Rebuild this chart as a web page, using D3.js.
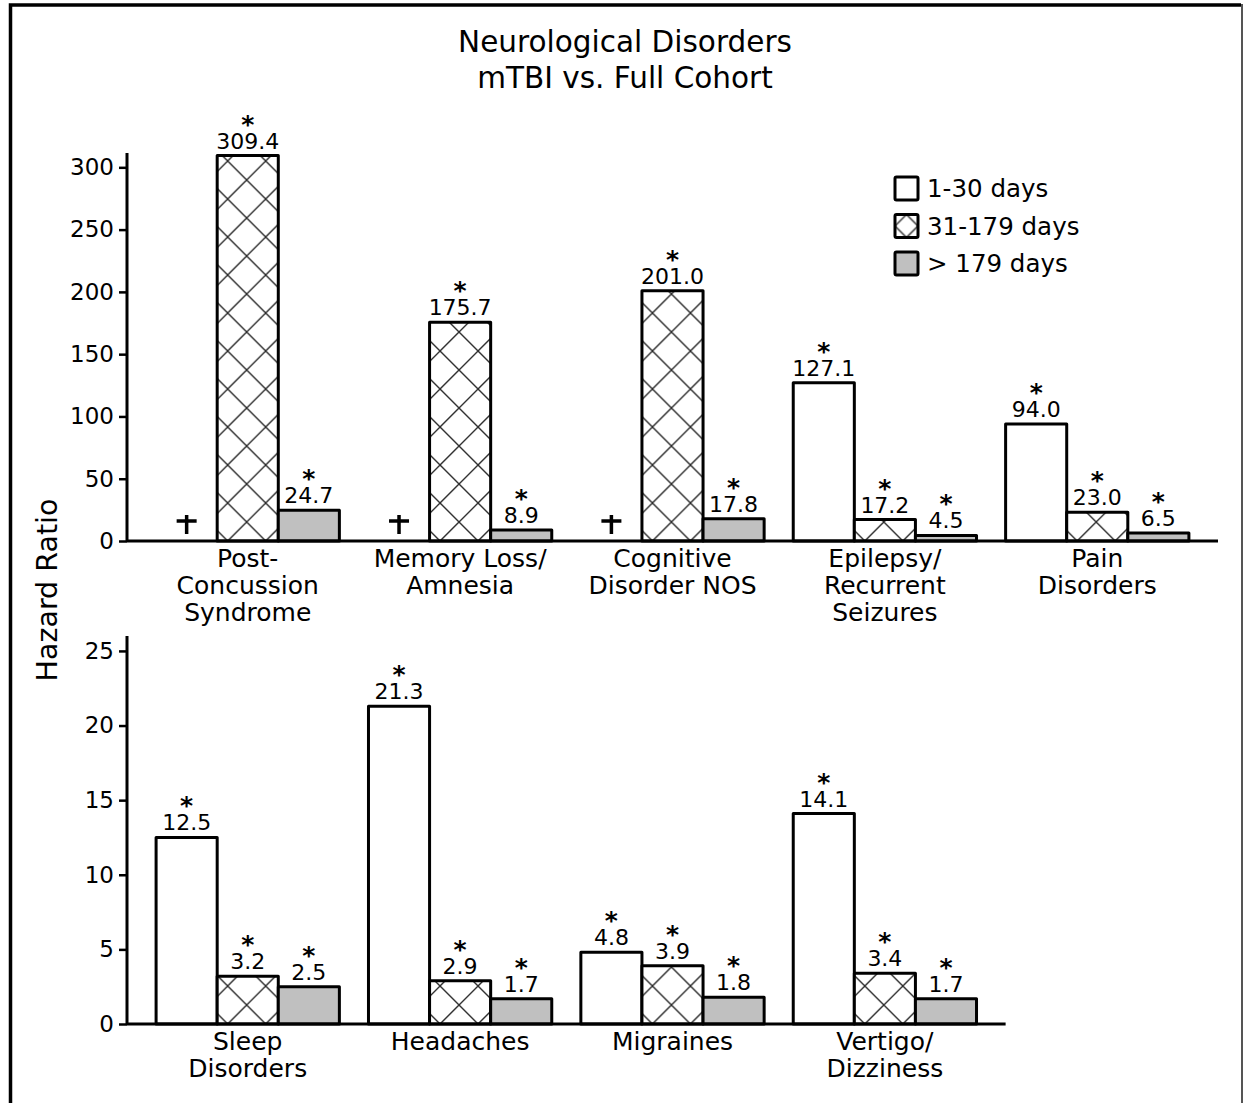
<!DOCTYPE html>
<html>
<head>
<meta charset="utf-8">
<script src="https://cdn.jsdelivr.net/npm/d3@7"></script>
<style>
  html, body { margin: 0; padding: 0; background: #fff; }
  svg { display: block; font-family: "DejaVu Sans", Verdana, sans-serif; }
</style>
</head>
<body>
<svg id="chart" width="1244" height="1103"></svg>
<script>
// ---- data ----
const seriesNames = ["1-30 days", "31-179 days", "> 179 days"];

const topCategories = [
  ["Post-", "Concussion", "Syndrome"],
  ["Memory Loss/", "Amnesia"],
  ["Cognitive", "Disorder NOS"],
  ["Epilepsy/", "Recurrent", "Seizures"],
  ["Pain", "Disorders"]
];
// null = not estimable (marked with a cross)
const top1to30   = [null, null, null, 127.1, 94.0];
const top31to179 = [309.4, 175.7, 201.0, 17.2, 23.0];
const topOver179 = [24.7, 8.9, 17.8, 4.5, 6.5];
const topTicks   = [0, 50, 100, 150, 200, 250, 300];

const bottomCategories = [
  ["Sleep", "Disorders"],
  ["Headaches"],
  ["Migraines"],
  ["Vertigo/", "Dizziness"]
];
const bottom1to30   = [12.5, 21.3, 4.8, 14.1];
const bottom31to179 = [3.2, 2.9, 3.9, 3.4];
const bottomOver179 = [2.5, 1.7, 1.8, 1.7];
const bottomTicks   = [0, 5, 10, 15, 20, 25];

// ---- drawing ----
const svg = d3.select("#chart");
const defs = svg.append("defs");
const FONT = "DejaVu Sans, Verdana, sans-serif";
const fills = ["#ffffff", null, "#c0c0c0"];
let patternCount = 0;

// outer frame
svg.append("path").attr("d", "M10.5,1103 L10.5,5 L1241,5")
  .attr("fill", "none").attr("stroke", "#000").attr("stroke-width", 3.5);
svg.append("line").attr("x1", 1242).attr("x2", 1242).attr("y1", 4).attr("y2", 1103)
  .attr("stroke", "#555").attr("stroke-width", 2);

// title
svg.append("text").attr("x", 625).attr("y", 52).attr("text-anchor", "middle")
  .attr("font-size", 29.5).text("Neurological Disorders");
svg.append("text").attr("x", 625).attr("y", 88).attr("text-anchor", "middle")
  .attr("font-size", 29.5).text("mTBI vs. Full Cohort");

// shared y-axis title
svg.append("text").attr("transform", "translate(57,590) rotate(-90)")
  .attr("text-anchor", "middle").attr("font-size", 28.5).text("Hazard Ratio");

// cross-hatch fill, anchored at (x, y), tile size s
function hatchPattern(x, y, s) {
  const id = "hatch" + (patternCount++);
  const p = defs.append("pattern").attr("id", id)
    .attr("patternUnits", "userSpaceOnUse")
    .attr("x", x).attr("y", y).attr("width", s).attr("height", s);
  p.append("rect").attr("width", s).attr("height", s).attr("fill", "#fff");
  p.append("path")
    .attr("d", `M0,0 L${s},${s} M${s},0 L0,${s} M-1,${s - 1} L1,${s + 1} M${s - 1},-1 L${s + 1},1 M-1,1 L1,-1 M${s - 1},${s + 1} L${s + 1},${s - 1}`)
    .attr("stroke", "#2a2a2a").attr("stroke-width", 1.4).attr("fill", "none");
  return "url(#" + id + ")";
}

function panel(opts) {
  const g = svg.append("g");
  const { cats, series, yMax, ticks, x0, x1, yBottom, yTop } = opts;
  const x = d3.scaleBand().domain(d3.range(cats.length)).range([x0, x1]).padding(0.137);
  const xs = d3.scaleBand().domain([0, 1, 2]).range([0, x.bandwidth()]);
  const y = d3.scaleLinear().domain([0, yMax]).range([yBottom, yTop]);

  // y axis
  const yAxis = g.append("g").attr("transform", `translate(${x0},0)`)
    .call(d3.axisLeft(y).tickValues(ticks).tickSize(8).tickPadding(5).tickFormat(d3.format("d")));
  yAxis.select(".domain").attr("d", `M0,${yTop}V${yBottom}`).attr("stroke-width", 3);
  yAxis.selectAll(".tick line").attr("stroke-width", 2.5);
  yAxis.selectAll(".tick text").attr("font-size", 23).attr("font-family", FONT).attr("fill", "#000");

  // bars
  cats.forEach((cat, i) => {
    const gx = x(i);
    series.forEach((vals, s) => {
      const v = vals[i];
      const bx = gx + xs(s);
      const bw = xs.bandwidth();
      const cx = bx + bw / 2;
      if (v === null) {
        // cross marker for a ratio that could not be estimated
        g.append("path")
          .attr("d", `M${cx - 10},${yBottom - 20}H${cx + 10}M${cx},${yBottom - 26}V${yBottom - 7}`)
          .attr("stroke", "#000").attr("stroke-width", 3.5).attr("fill", "none");
        return;
      }
      const fill = s === 1 ? hatchPattern(bx + 10.5, yBottom, 38) : fills[s];
      g.append("rect").attr("x", bx).attr("y", y(v)).attr("width", bw).attr("height", yBottom - y(v))
        .attr("fill", fill).attr("stroke", "#000").attr("stroke-width", 3).attr("stroke-linejoin", "round");
      // significance star above the value label
      const lab = g.append("text").attr("text-anchor", "middle");
      lab.append("tspan").attr("x", cx).attr("y", y(v) - 23)
        .attr("font-size", 25).attr("font-weight", "bold").text("*");
      lab.append("tspan").attr("x", cx).attr("y", y(v) - 7)
        .attr("font-size", 22).text(v.toFixed(1));
    });
    // category label
    const lbl = g.append("text").attr("text-anchor", "middle").attr("font-size", 25);
    cat.forEach((line, k) => {
      lbl.append("tspan").attr("x", gx + x.bandwidth() / 2).attr("y", yBottom + 26 + k * 27).text(line);
    });
  });

  // x baseline
  g.append("line").attr("x1", x0).attr("x2", x1).attr("y1", yBottom).attr("y2", yBottom)
    .attr("stroke", "#000").attr("stroke-width", 3);
}

panel({ cats: topCategories, series: [top1to30, top31to179, topOver179],
        yMax: 311.5, ticks: topTicks, x0: 127, x1: 1218, yBottom: 541, yTop: 153 });

// bottom panel: same group step as the top panel
const step = (1218 - 127) / (5 + 0.137);
panel({ cats: bottomCategories, series: [bottom1to30, bottom31to179, bottomOver179],
        yMax: 26, ticks: bottomTicks, x0: 127, x1: 127 + step * (4 + 0.137), yBottom: 1024, yTop: 636 });

// legend
const legend = svg.append("g");
seriesNames.forEach((name, i) => {
  const ly = 177 + i * 37.5;
  const fill = i === 1 ? hatchPattern(895 + 11.5, ly, 23) : fills[i];
  legend.append("rect").attr("x", 895).attr("y", ly).attr("width", 23).attr("height", 23)
    .attr("fill", fill).attr("stroke", "#000").attr("stroke-width", 3).attr("rx", 1.5);
  legend.append("text").attr("x", 927).attr("y", ly + 20).attr("font-size", 24.5).text(name);
});
</script>
</body>
</html>
